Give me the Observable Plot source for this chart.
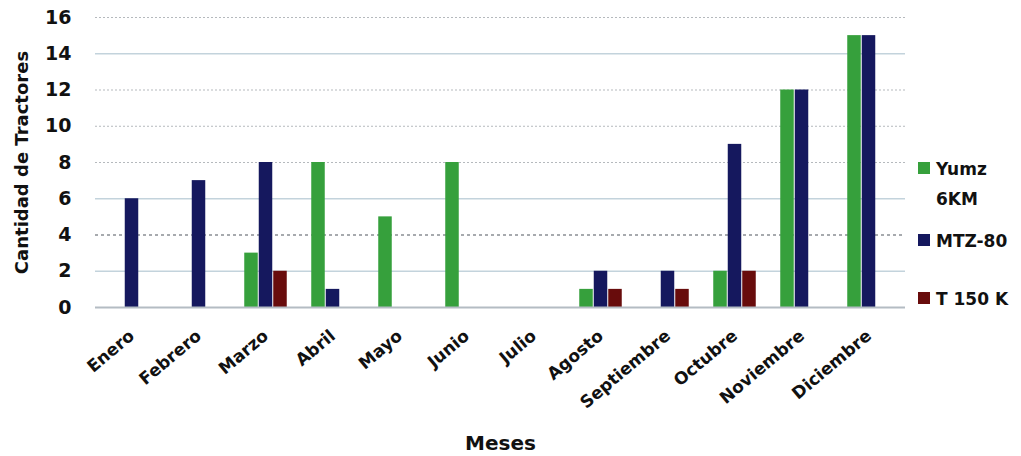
<!DOCTYPE html>
<html>
<head>
<meta charset="utf-8">
<script src="https://cdn.jsdelivr.net/npm/d3@7"></script>
<script src="https://cdn.jsdelivr.net/npm/@observablehq/plot@0.6"></script>
<style>
  html, body { margin: 0; padding: 0; background: #fff; }
  #wrap { position: relative; width: 1021px; height: 456px; font-family: "DejaVu Sans", sans-serif; }
  #legend { position: absolute; left: 918px; top: 0; font-weight: 700; font-size: 17px; color: #111; }
  .item { position: absolute; left: 0; display: flex; align-items: flex-start; white-space: nowrap; line-height: 30px; }
  .sw { width: 12px; height: 12px; margin: 8px 6px 0 0; flex: none; }
</style>
</head>
<body>
<div id="wrap"><div id="chart"></div><div id="legend"></div></div>
<script>
const months = ["Enero","Febrero","Marzo","Abril","Mayo","Junio","Julio","Agosto","Septiembre","Octubre","Noviembre","Diciembre"];
const seriesNames = ["Yumz 6KM", "MTZ-80", "T 150 K"];
const yumz = [0, 0, 3, 8, 5, 8, 0, 1, 0, 2, 12, 15];
const mtz  = [6, 7, 8, 1, 0, 0, 0, 2, 2, 9, 12, 15];
const t150 = [0, 0, 2, 0, 0, 0, 0, 1, 1, 2, 0, 0];
const yTicks = [0, 2, 4, 6, 8, 10, 12, 14, 16];
const colors = ["#36a03c", "#15185e", "#680c0c"];

const seriesValues = [yumz, mtz, t150];
const offsets = [-14.5, 0, 14.5];
const inset = 26.75;

const barMarks = seriesValues.map((vals, j) =>
  Plot.barY(months, {x: months, y: vals, fill: colors[j], dx: offsets[j], insetLeft: inset, insetRight: inset})
);

const chart = Plot.plot({
  width: 1021,
  height: 456,
  marginLeft: 95,
  marginRight: 116,
  marginTop: 17,
  marginBottom: 149,
  style: {fontFamily: "'DejaVu Sans', sans-serif", background: "white", overflow: "visible"},
  x: {domain: months, padding: 0},
  y: {domain: [0, 16]},
  marks: [
    Plot.ruleY([2, 6, 14], {stroke: "#c3d3dc", strokeWidth: 1.6}),
    Plot.ruleY([4], {stroke: "#8a8f94", strokeWidth: 1.6, strokeDasharray: "3,3"}),
    Plot.ruleY([8, 10, 12, 16], {stroke: "#b5b9bd", strokeWidth: 1, strokeDasharray: "2,2"}),
    ...barMarks,
    Plot.ruleY([0], {stroke: "#b4bcc3", strokeWidth: 2}),
    Plot.axisY({ticks: yTicks, tickSize: 0, tickPadding: 24, label: null, fontSize: 19, fontWeight: 700, fill: "#111"}),
    Plot.axisX({tickSize: 0, tickRotate: -40, tickPadding: 26, label: null, fontSize: 17, fontWeight: 700, fill: "#111"}),
    Plot.text(["Cantidad de Tractores"], {frameAnchor: "left", textAnchor: "middle", rotate: -90, dx: -73, text: d => d, fontSize: 18, fontWeight: 700, fill: "#111"}),
    Plot.text(["Meses"], {frameAnchor: "bottom", dy: 142, text: d => d, fontSize: 20, fontWeight: 700, fill: "#111"})
  ]
});
document.getElementById("chart").appendChild(chart);

const legend = document.getElementById("legend");
const legendTops = [154, 226, 284];
seriesNames.forEach((s, j) => {
  const it = document.createElement("div");
  it.className = "item";
  it.style.top = legendTops[j] + "px";
  const sw = document.createElement("div");
  sw.className = "sw";
  sw.style.background = colors[j];
  const tx = document.createElement("div");
  tx.innerHTML = s === "Yumz 6KM" ? "Yumz<br>6KM" : s;
  it.appendChild(sw); it.appendChild(tx);
  legend.appendChild(it);
});
</script>
</body>
</html>
